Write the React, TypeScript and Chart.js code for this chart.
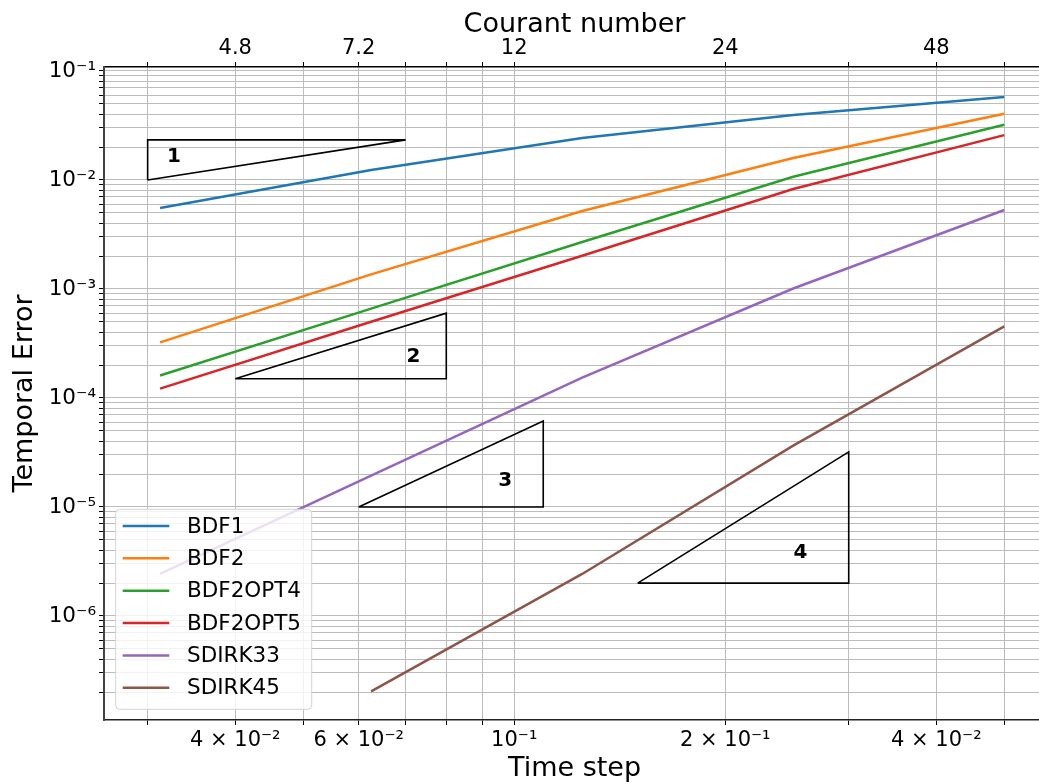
import React, { useEffect, useRef } from 'react';
import { Chart, registerables } from 'chart.js';

Chart.register(...registerables);

// ---- data ----
const timeSteps = [0.03125, 0.0625, 0.125, 0.25, 0.5];
const seriesNames = ['BDF1', 'BDF2', 'BDF2OPT4', 'BDF2OPT5', 'SDIRK33', 'SDIRK45'];
const seriesColors = ['#1f77b4', '#ff7f0e', '#2ca02c', '#d62728', '#9467bd', '#8c564b'];
const bdf1 = [5.53e-3, 1.236e-2, 2.43e-2, 3.95e-2, 5.77e-2];
const bdf2 = [3.24e-4, 1.36e-3, 5.19e-3, 1.59e-2, 4.05e-2];
const bdf2opt4 = [1.61e-4, 6.6e-4, 2.7e-3, 1.07e-2, 3.21e-2];
const bdf2opt5 = [1.22e-4, 5.0e-4, 2.02e-3, 8.26e-3, 2.58e-2];
const sdirk33 = [2.43e-6, 1.94e-5, 1.54e-4, 1.01e-3, 5.3e-3];
const sdirk45: (number | null)[] = [null, 2.03e-7, 2.43e-6, 3.65e-5, 4.54e-4];
const seriesValues = [bdf1, bdf2, bdf2opt4, bdf2opt5, sdirk33, sdirk45];

// slope triangles (closed polylines)
const tri1X = [0.03, 0.07, 0.03, 0.03];
const tri1Y = [0.01, 0.02333, 0.02333, 0.01];
const tri2X = [0.04, 0.08, 0.08, 0.04];
const tri2Y = [1.5e-4, 1.5e-4, 6e-4, 1.5e-4];
const tri3X = [0.06, 0.11, 0.11, 0.06];
const tri3Y = [1e-5, 1e-5, 6.16e-5, 1e-5];
const tri4X = [0.15, 0.3, 0.3, 0.15];
const tri4Y = [2e-6, 2e-6, 3.2e-5, 2e-6];
const triangleXs = [tri1X, tri2X, tri3X, tri4X];
const triangleYs = [tri1Y, tri2Y, tri3Y, tri4Y];
const slopeLabels = ['1', '2', '3', '4'];
const slopeLabelX = [0.0327, 0.0718, 0.0971, 0.256];
const slopeLabelY = [0.0163, 2.38e-4, 1.73e-5, 3.8e-6];

// axes
const xMin = 0.025993;
const xMax = 0.5716;
const yMin = 1.111e-7;
const yMax = 0.1088;
const xGridValues = [0.03, 0.04, 0.05, 0.06, 0.07, 0.08, 0.09, 0.1, 0.2, 0.3, 0.4, 0.5];
const timeStepTickValues = [0.04, 0.06, 0.1, 0.2, 0.4];
const timeStepTickLabels = ['4 × 10⁻²', '6 × 10⁻²', '10⁻¹', '2 × 10⁻¹', '4 × 10⁻²'];
const courantTickValues = [4.8, 7.2, 12, 24, 48];
const courantTickLabels = ['4.8', '7.2', '12', '24', '48'];
const courantPerTimeStep = 120;
const yDecadeValues = [1e-7, 1e-6, 1e-5, 1e-4, 1e-3, 1e-2, 1e-1];
const yDecadeLabels = ['10⁻⁷', '10⁻⁶', '10⁻⁵', '10⁻⁴', '10⁻³', '10⁻²', '10⁻¹'];
const minorMultiples = [1, 2, 3, 4, 5, 6, 7, 8, 9];

const near = (a: number, b: number) => Math.abs(Math.log10(a) - Math.log10(b)) < 1e-6;

const yGridValues: number[] = [];
yDecadeValues.forEach((d) => minorMultiples.forEach((m) => {
  const v = d * m;
  if (v >= yMin && v <= yMax) yGridValues.push(v);
}));

const FONT = '"DejaVu Sans"';
const GRID = '#bcbcbc';

const overlayPlugin = {
  id: 'overlay',
  afterDatasetsDraw(chart: any) {
    const { ctx, chartArea, scales } = chart;
    ctx.save();
    // slope labels
    ctx.font = `bold 20px ${FONT}`;
    ctx.fillStyle = '#000';
    ctx.textAlign = 'center';
    ctx.textBaseline = 'middle';
    slopeLabels.forEach((t, i) => {
      ctx.fillText(t, scales.x.getPixelForValue(slopeLabelX[i]), scales.y.getPixelForValue(slopeLabelY[i]));
    });
    // legend
    const w = 196;
    const h = 200;
    const left = chartArea.left + 11.7;
    const top = chartArea.bottom - 10.7 - h;
    const r = 4;
    ctx.beginPath();
    ctx.moveTo(left + r, top);
    ctx.lineTo(left + w - r, top);
    ctx.arcTo(left + w, top, left + w, top + r, r);
    ctx.lineTo(left + w, top + h - r);
    ctx.arcTo(left + w, top + h, left + w - r, top + h, r);
    ctx.lineTo(left + r, top + h);
    ctx.arcTo(left, top + h, left, top + h - r, r);
    ctx.lineTo(left, top + r);
    ctx.arcTo(left, top, left + r, top, r);
    ctx.closePath();
    ctx.fillStyle = 'rgba(255,255,255,0.8)';
    ctx.fill();
    ctx.strokeStyle = '#d3d3d3';
    ctx.lineWidth = 1;
    ctx.stroke();
    ctx.font = `21.5px ${FONT}`;
    ctx.textAlign = 'left';
    seriesNames.forEach((name, i) => {
      const y = top + 16.7 + 32.35 * i;
      ctx.beginPath();
      ctx.moveTo(left + 7, y);
      ctx.lineTo(left + 53.6, y);
      ctx.strokeStyle = seriesColors[i];
      ctx.lineWidth = 2.5;
      ctx.stroke();
      ctx.fillStyle = '#000';
      ctx.fillText(name, left + 71.3, y + 1);
    });
    ctx.restore();
  },
};

export default function App() {
  const canvasRef = useRef<HTMLCanvasElement | null>(null);

  useEffect(() => {
    if (!canvasRef.current) return;
    Chart.defaults.font.family = FONT;
    const datasets: any[] = seriesNames.map((name, i) => ({
      label: name,
      data: timeSteps
        .map((x, j) => ({ x, y: seriesValues[i][j] }))
        .filter((p) => p.y !== null),
      borderColor: seriesColors[i],
      backgroundColor: seriesColors[i],
      borderWidth: 2.5,
      pointRadius: 0,
      tension: 0,
      fill: false,
      xAxisID: 'x',
      yAxisID: 'y',
    }));
    triangleXs.forEach((tx, k) => {
      datasets.push({
        label: 'slope' + slopeLabels[k],
        data: tx.map((x, j) => ({ x, y: triangleYs[k][j] })),
        borderColor: '#000',
        borderWidth: 1.6,
        pointRadius: 0,
        tension: 0,
        fill: false,
        xAxisID: 'x',
        yAxisID: 'y',
      });
    });

    const chart = new Chart(canvasRef.current, {
      type: 'line',
      data: { datasets },
      plugins: [overlayPlugin],
      options: {
        animation: false,
        responsive: false,
        devicePixelRatio: 1,
        layout: { padding: 0 },
        plugins: { legend: { display: false }, tooltip: { enabled: false } },
        scales: {
          x: {
            type: 'logarithmic',
            position: 'bottom',
            min: xMin,
            max: xMax,
            afterBuildTicks: (s: any) => { s.ticks = xGridValues.map((v) => ({ value: v })); },
            afterFit: (s: any) => { s.height = 64; },
            ticks: {
              autoSkip: false,
              maxRotation: 0,
              minRotation: 0,
              color: '#000',
              font: { size: 21 },
              padding: 3,
              callback: (v: any) => {
                const i = timeStepTickValues.findIndex((t) => near(t, Number(v)));
                return i >= 0 ? timeStepTickLabels[i] : '';
              },
            },
            grid: { color: GRID, lineWidth: 1, tickColor: '#000', tickLength: 5 },
            border: { display: true, color: '#222', width: 1.5 },
            title: { display: true, text: 'Time step', color: '#000', font: { size: 27 }, padding: { top: 0, bottom: -1 } },
          },
          xTop: {
            type: 'logarithmic',
            position: 'top',
            min: xMin,
            max: xMax,
            afterBuildTicks: (s: any) => { s.ticks = xGridValues.map((v) => ({ value: v })); },
            afterFit: (s: any) => { s.height = 67; },
            ticks: {
              autoSkip: false,
              maxRotation: 0,
              minRotation: 0,
              color: '#000',
              font: { size: 21 },
              padding: 1,
              callback: (v: any) => {
                const i = courantTickValues.findIndex((c) => near(c / courantPerTimeStep, Number(v)));
                return i >= 0 ? courantTickLabels[i] : '';
              },
            },
            grid: { drawOnChartArea: false, color: GRID, tickColor: '#000', tickLength: 5 },
            border: { display: true, color: '#000', width: 1.5 },
            title: { display: true, text: 'Courant number', color: '#000', font: { size: 27 }, padding: { top: 9, bottom: 0 } },
          },
          y: {
            type: 'logarithmic',
            position: 'left',
            min: yMin,
            max: yMax,
            afterBuildTicks: (s: any) => { s.ticks = yGridValues.map((v) => ({ value: v })); },
            afterFit: (s: any) => { s.width = 104; },
            ticks: {
              autoSkip: false,
              color: '#000',
              font: { size: 21.5 },
              padding: 3,
              callback: (v: any) => {
                const i = yDecadeValues.findIndex((d) => near(d, Number(v)));
                return i >= 0 ? yDecadeLabels[i] : '';
              },
            },
            grid: { color: GRID, lineWidth: 1, tickColor: '#000', tickLength: 5 },
            border: { display: true, color: '#444', width: 2 },
            title: { display: true, text: 'Temporal Error', color: '#000', font: { size: 27 }, padding: { top: 9, bottom: 4 } },
          },
        },
      } as any,
    });
    return () => chart.destroy();
  }, []);

  return (
    <div style={{ position: 'fixed', left: 0, top: 0, width: 1039, height: 784, overflow: 'hidden', background: '#fff' }}>
      <canvas ref={canvasRef} width={1045} height={784} style={{ display: 'block' }} />
    </div>
  );
}
